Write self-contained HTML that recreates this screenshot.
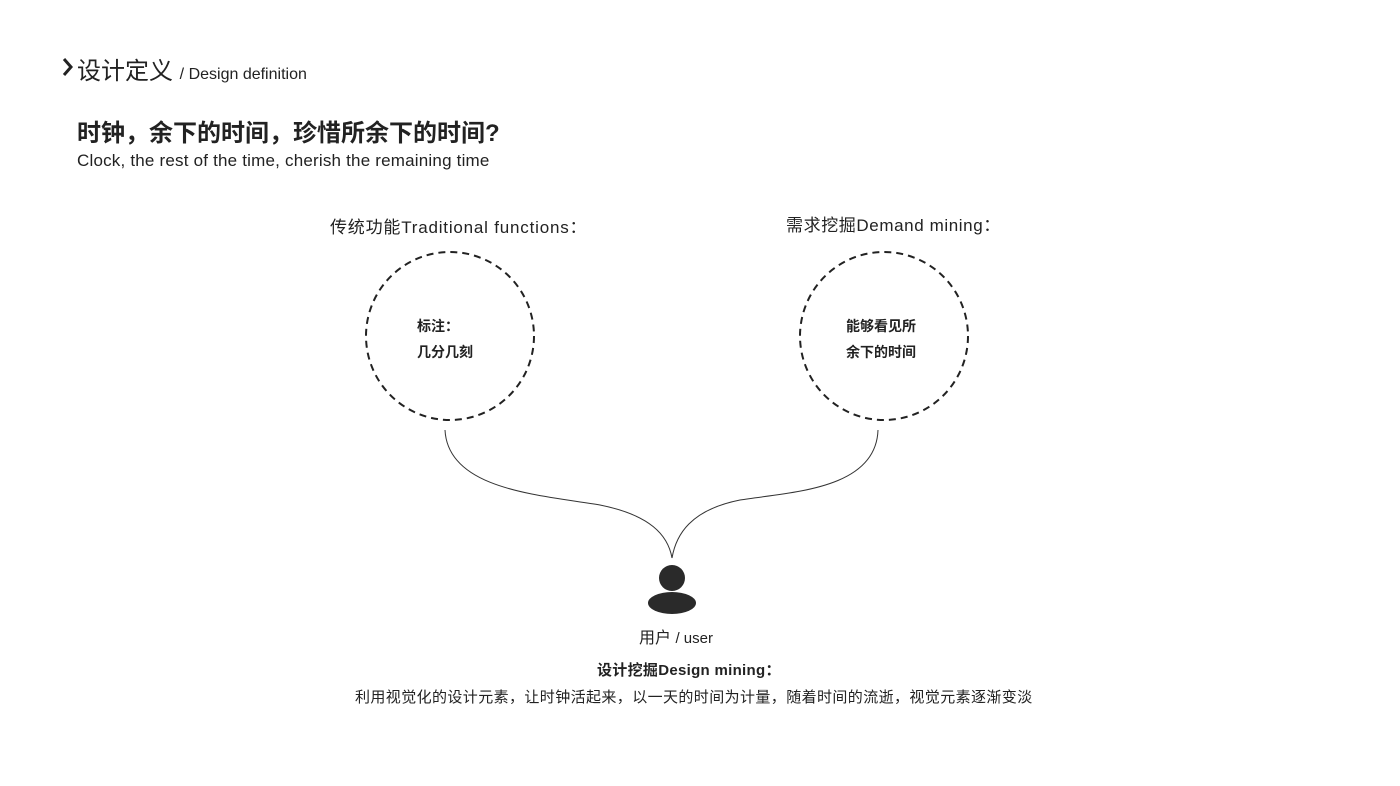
<!DOCTYPE html>
<html><head><meta charset="utf-8"><style>
body{margin:0;width:1400px;height:786px;background:#fff;position:relative;overflow:hidden;font-family:"Liberation Sans","Noto Sans CJK SC",sans-serif;color:#222}
.t{position:absolute;white-space:nowrap}
</style></head><body>
<svg width="14" height="22" style="position:absolute;left:61px;top:56px"><path d="M3,3 L10,11 L3,19" fill="none" stroke="#222" stroke-width="3"/></svg>
<div class="t" style="left:77px;top:51px;font-size:24px;color:#222">设计定义 <span style="font-size:16px">/ Design definition</span></div>
<div class="t" style="left:77px;top:113px;font-size:24px;font-weight:bold;color:#222">时钟，余下的时间，珍惜所余下的时间?</div>
<div class="t" style="left:77px;top:151px;font-size:17px;letter-spacing:0.2px">Clock, the rest of the time, cherish the remaining time</div>
<div class="t" style="left:330px;top:213px;font-size:17px;letter-spacing:0.8px">传统功能Traditional functions：</div>
<div class="t" style="left:786px;top:211px;font-size:17px;letter-spacing:0.6px">需求挖掘Demand mining：</div>
<svg width="1400" height="786" style="position:absolute;left:0;top:0">
<circle cx="450" cy="336" r="84" fill="none" stroke="#222" stroke-width="2" stroke-dasharray="7,5"/>
<circle cx="884" cy="336" r="84" fill="none" stroke="#222" stroke-width="2" stroke-dasharray="7,5"/>
<path d="M445,430 C448,490 540,495 600,505 C650,515 668,535 672,558" fill="none" stroke="#333" stroke-width="1"/>
<path d="M878,430 C876,490 790,492 740,500 C690,510 676,535 672,558" fill="none" stroke="#333" stroke-width="1"/>
<circle cx="672" cy="578" r="13" fill="#2a2a2a"/>
<ellipse cx="672" cy="603" rx="24" ry="11" fill="#2a2a2a"/>
</svg>
<div class="t" style="left:417px;top:313px;font-size:14px;font-weight:bold;line-height:26px">标注：<br>几分几刻</div>
<div class="t" style="left:846px;top:313px;font-size:14px;font-weight:bold;line-height:26px">能够看见所<br>余下的时间</div>
<div class="t" style="left:639px;top:624px;font-size:16px">用户 <span style="font-size:15px">/ user</span></div>
<div class="t" style="left:597px;top:659px;font-size:15px;font-weight:bold;letter-spacing:0.3px">设计挖掘Design mining：</div>
<div class="t" style="left:355px;top:686px;font-size:15px;letter-spacing:0.4px">利用视觉化的设计元素，让时钟活起来，以一天的时间为计量，随着时间的流逝，视觉元素逐渐变淡</div>
</body></html>
